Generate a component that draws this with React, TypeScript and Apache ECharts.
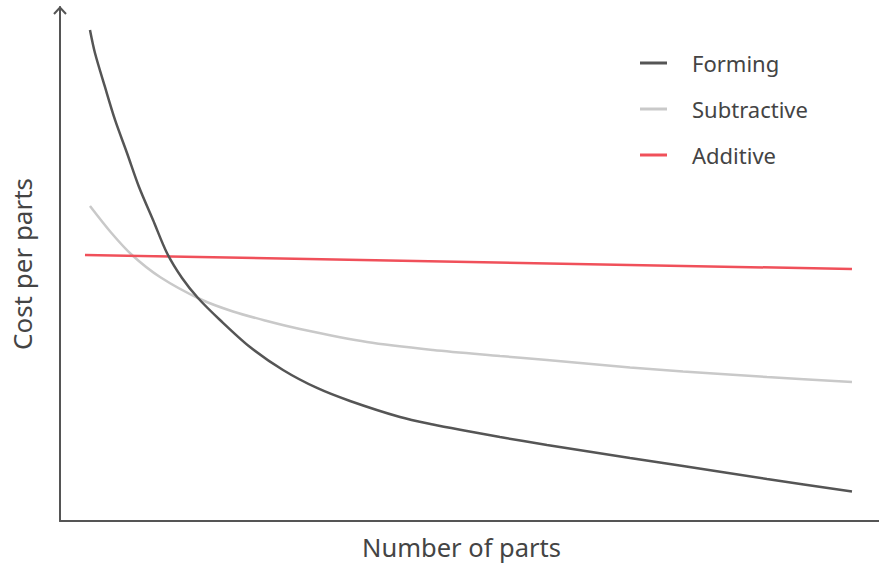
import React, { useEffect, useRef } from "react";
import * as echarts from "echarts";

const seriesNames = ["Forming", "Subtractive", "Additive"];
const formingX = [3.66, 4.27, 5.49, 6.72, 8.18, 9.65, 11.36, 13.06, 14.9, 16.85, 19.54, 23.2, 27.23, 31.38, 35.41, 41.51, 45.54, 49.69, 53.72, 59.46, 69.6, 76.07, 86.32, 96.7];
const formingY = [95.53, 91.05, 84.44, 78.02, 71.6, 64.98, 58.56, 52.14, 47.28, 43.39, 39.11, 33.85, 29.38, 25.88, 23.35, 20.23, 18.77, 17.51, 16.34, 14.79, 12.26, 10.7, 8.17, 5.74];
const subtractiveX = [3.66, 6.23, 8.79, 12.21, 17.09, 21.12, 25.27, 29.3, 37.48, 45.54, 53.72, 59.46, 69.6, 76.07, 86.32, 96.7];
const subtractiveY = [61.28, 56.13, 51.75, 47.47, 43.19, 40.76, 38.91, 37.35, 34.82, 33.27, 32.1, 31.32, 29.86, 29.09, 28.02, 27.04];
const additiveX = [3.05, 96.7];
const additiveY = [51.75, 49.03];
const xAxisTitle = "Number of parts";
const yAxisTitle = "Cost per parts";

const zip = (xs: number[], ys: number[]) => xs.map((x, i) => [x, ys[i]]);

export default function App() {
  const ref = useRef<HTMLDivElement>(null);
  useEffect(() => {
    if (!ref.current) return;
    const chart = echarts.init(ref.current, undefined, { renderer: "svg" });
    const font = "Noto Sans";
    const textColor = "#444";
    const colors = ["#555555", "#c9c9c9", "#f0505a"];
    chart.setOption({
      animation: false,
      color: colors,
      grid: { left: 60, right: 0, top: 7, bottom: 43, containLabel: false, outerBoundsMode: "none" },
      legend: {
        orient: "vertical",
        left: 635,
        top: 46,
        icon: "rect",
        itemWidth: 27,
        itemHeight: 3,
        itemGap: 22,
        textStyle: {
          fontFamily: font,
          fontSize: 22,
          color: textColor,
          lineHeight: 24,
          padding: [0, 0, 0, 20],
        },
        data: seriesNames,
      },
      xAxis: {
        type: "value",
        min: 0,
        max: 100,
        name: xAxisTitle,
        nameLocation: "middle",
        nameGap: 13,
        nameTextStyle: { fontFamily: font, fontSize: 25.5, color: textColor, padding: [0, 16, 0, 0] },
        axisLine: { lineStyle: { color: "#555", width: 2 } },
        axisTick: { show: false },
        axisLabel: { show: false },
        splitLine: { show: false },
      },
      yAxis: {
        type: "value",
        min: 0,
        max: 100,
        name: yAxisTitle,
        nameLocation: "middle",
        nameGap: 25,
        nameTextStyle: { fontFamily: font, fontSize: 26, color: textColor },
        axisLine: { show: true, lineStyle: { color: "#555", width: 2 } },
        axisTick: { show: false },
        axisLabel: { show: false },
        splitLine: { show: false },
      },
      graphic: [
        {
          type: "polyline",
          shape: { points: [[54, 14], [60, 7.5], [66, 14]] },
          style: { stroke: "#555", lineWidth: 2, fill: null },
        },
      ],
      series: [
        {
          name: seriesNames[0],
          type: "line",
          smooth: 0.3,
          showSymbol: false,
          lineStyle: { width: 2.5, color: colors[0] },
          data: zip(formingX, formingY),
          z: 3,
        },
        {
          name: seriesNames[1],
          type: "line",
          smooth: 0.3,
          showSymbol: false,
          lineStyle: { width: 2.5, color: colors[1] },
          data: zip(subtractiveX, subtractiveY),
          z: 2,
        },
        {
          name: seriesNames[2],
          type: "line",
          showSymbol: false,
          lineStyle: { width: 2.5, color: colors[2] },
          data: zip(additiveX, additiveY),
          z: 2,
        },
      ],
    });
    return () => chart.dispose();
  }, []);
  return <div ref={ref} style={{ width: 879, height: 564, position: "absolute", left: 0, top: 0, background: "#fff" }} />;
}
